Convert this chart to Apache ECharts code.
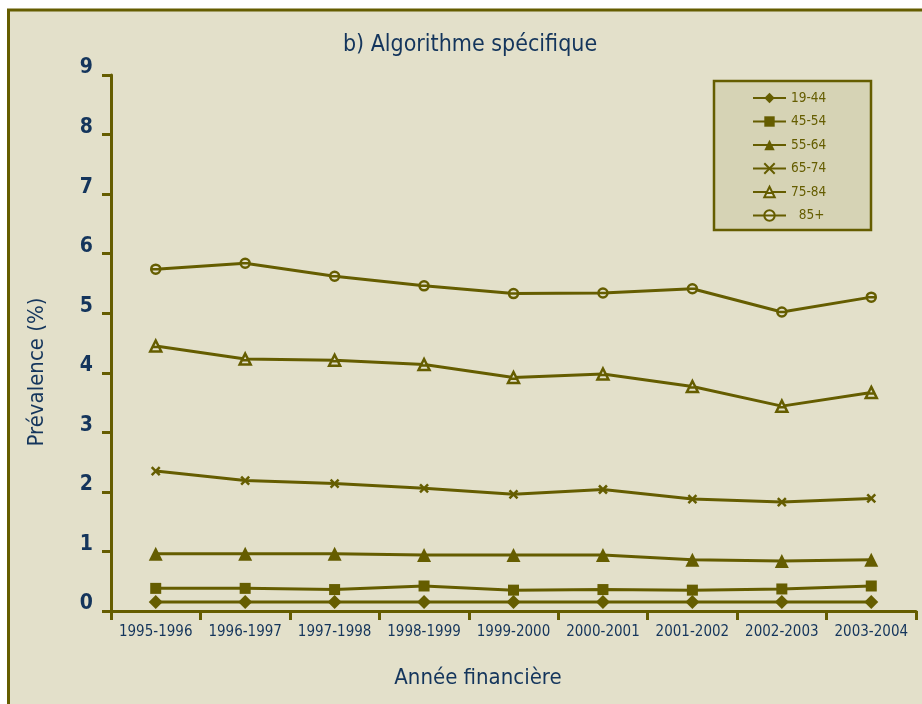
<!DOCTYPE html>
<html>
<head>
<meta charset="utf-8">
<script src="https://cdn.jsdelivr.net/npm/echarts@6/dist/echarts.min.js"></script>
<style>
html,body{margin:0;padding:0;background:#fff;}
#c{width:922px;height:704px;}
</style>
</head>
<body>
<div id="c"></div>
<script>
var categories = ['1995-1996','1996-1997','1997-1998','1998-1999','1999-2000','2000-2001','2001-2002','2002-2003','2003-2004'];
var s1944 = [0.15,0.15,0.15,0.15,0.15,0.15,0.15,0.15,0.15];
var s4554 = [0.38,0.38,0.36,0.42,0.35,0.36,0.35,0.37,0.42];
var s5564 = [0.96,0.96,0.96,0.94,0.94,0.94,0.86,0.84,0.86];
var s6574 = [2.35,2.19,2.14,2.06,1.96,2.04,1.88,1.83,1.89];
var s7584 = [4.45,4.23,4.21,4.14,3.92,3.98,3.77,3.44,3.67];
var s85 = [5.74,5.84,5.62,5.46,5.33,5.34,5.41,5.02,5.27];
var seriesNames = ['19-44','45-54','55-64','65-74','75-84','85+'];
var yTicks = [0,1,2,3,4,5,6,7,8,9];

var OLIVE = '#655d00';
var BG = '#e3e0ca';
var NAVY = '#14355c';
var FONT = "'Liberation Sans Narrow','DejaVu Sans Condensed',sans-serif";

var chart = echarts.init(document.getElementById('c'), null, {renderer:'canvas'});

function mk(name, data, symbol, size, filled) {
  return {
    name: name, type: 'line', data: data,
    symbol: symbol, symbolSize: size,
    lineStyle: {color: OLIVE, width: 3},
    itemStyle: filled ? {color: OLIVE} : {color: BG, borderColor: OLIVE, borderWidth: 2.5},
    emphasis: {disabled: true},
    animation: false, z: 3
  };
}

var option = {
  backgroundColor: '#ffffff',
  animation: false,
  graphic: [
    {type:'rect', shape:{x:8.5, y:10, width:940, height:720}, style:{fill:BG, stroke:OLIVE, lineWidth:3}, z:-10},
    {type:'rect', shape:{x:714, y:81, width:157, height:149}, style:{fill:'#d6d3b5', stroke:OLIVE, lineWidth:2.5}, z:-5},
    {type:'text', x:470, y:45, style:{text:'b) Algorithme spécifique', font:'23px '+FONT, fill:NAVY, align:'center', verticalAlign:'middle'}},
    {type:'text', x:37, y:372, rotation:Math.PI/2, style:{text:'Prévalence (%)', font:'22px '+FONT, fill:NAVY, align:'center', verticalAlign:'middle'}},
    {type:'text', x:478, y:678, style:{text:'Année financière', font:'22px '+FONT, fill:NAVY, align:'center', verticalAlign:'middle'}}
  ],
  legend: {
    orient: 'vertical',
    left: 747, top: 86,
    itemWidth: 33, itemHeight: 13, itemGap: 9.5,
    data: seriesNames,
    textStyle: {color: OLIVE, fontSize: 13.5, fontFamily: FONT},
    formatter: function(n){ return n === '85+' ? '  85+' : n; },
    selectedMode: false
  },
  grid: {left:111, right:6, top:75, bottom:93, containLabel:false},
  xAxis: {
    type: 'category', data: categories, boundaryGap: true,
    axisLine: {lineStyle:{color:OLIVE, width:3}},
    axisTick: {show:true, length:9, lineStyle:{color:OLIVE, width:3}},
    axisLabel: {color: NAVY, fontSize: 15, fontFamily: FONT, margin: 14, interval: 0},
    splitLine: {show:false}
  },
  yAxis: {
    type: 'value', min: 0, max: 9, interval: 1,
    axisLine: {show:true, lineStyle:{color:OLIVE, width:3}},
    axisTick: {show:true, length:9, lineStyle:{color:OLIVE, width:3}},
    axisLabel: {color: NAVY, fontSize: 21, fontWeight: 'bold', fontFamily: FONT, margin: 18,
      verticalAlign: 'bottom', lineHeight: 14,
      formatter: function(v){ return yTicks.indexOf(v) >= 0 ? String(v) : ''; }},
    splitLine: {show:false}
  },
  series: [
    mk('19-44', s1944, 'diamond', 14, true),
    mk('45-54', s4554, 'rect', 11, true),
    mk('55-64', s5564, 'triangle', 14, true),
    mk('65-74', s6574, 'path://M0,0L10,10M10,0L0,10', 8, false),
    mk('75-84', s7584, 'path://M5,0L10,10L0,10Z M2.5,6L7.5,6', 11, false),
    mk('85+', s85, 'path://M0,5A5,5 0 1,1 10,5A5,5 0 1,1 0,5Z M0,5L10,5', 9, false)
  ]
};
chart.setOption(option);
</script>
</body>
</html>
